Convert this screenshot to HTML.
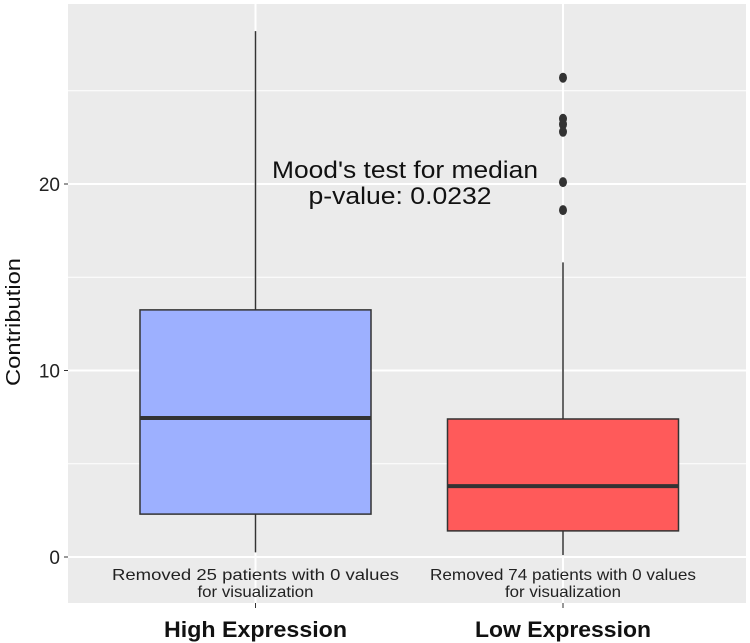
<!DOCTYPE html>
<html><head><meta charset="utf-8"><style>
body{margin:0;background:#fff;}
svg{display:block;font-family:"Liberation Sans",Arial,sans-serif;}
</style></head><body>
<svg id="chart" width="750" height="643"></svg>
<script>
const categories=["High Expression","Low Expression"];
const q1=[2.3,1.4];
const median=[7.45,3.8];
const q3=[13.25,7.4];
const whiskerLow=[0.25,0.1];
const whiskerHigh=[28.2,15.8];
const outliers=[[],[25.7,23.5,23.2,22.8,20.1,18.6]];
const fills=["#9db0ff","#ff5a5a"];
const notes=["Removed 25 patients with 0 values","Removed 74 patients with 0 values"];
const yTicks=[0,10,20];
const yMinor=[5,15,25];

const NS="http://www.w3.org/2000/svg";
const svg=document.getElementById('chart');
const L=68,R=746,T=4,B=603;
const y=v=>557-v*18.65;
const xc=[255.5,563];
const bw=231;
const catLen=[183,176];
function mk(t,a,p){const e=document.createElementNS(NS,t);for(const k in a)e.setAttribute(k,a[k]);(p||svg).appendChild(e);return e;}
const bg=mk('rect',{x:L,y:T,width:R-L,height:B-T,fill:'#ebebeb'});


yMinor.forEach(v=>{const l=mk('line',{x1:L,x2:R,y1:y(v),y2:y(v),stroke:'#fff','stroke-width':1});

});
yTicks.forEach(v=>{const l=mk('line',{x1:L,x2:R,y1:y(v),y2:y(v),stroke:'#fff','stroke-width':2});


const tk=mk('line',{x1:L-4,x2:L,y1:y(v),y2:y(v),stroke:'#333','stroke-width':1});


const t=mk('text',{x:L-8,y:y(v)+7,'text-anchor':'end','font-size':19,fill:'#222'});t.textContent=v;

});
categories.forEach((c,i)=>{const x=xc[i];
const vl=mk('line',{x1:x,x2:x,y1:T,y2:B,stroke:'#fff','stroke-width':2});


const n1=mk('text',{x:x,y:580,'text-anchor':'middle','font-size':16,fill:'#222',textLength:i?266:287,lengthAdjust:'spacingAndGlyphs'});n1.textContent=notes[i];


const n2=mk('text',{x:x,y:597,'text-anchor':'middle','font-size':16,fill:'#222',textLength:116,lengthAdjust:'spacingAndGlyphs'});n2.textContent='for visualization';


const w=mk('line',{x1:x,x2:x,y1:y(whiskerHigh[i]),y2:y(whiskerLow[i]),stroke:'#333','stroke-width':1.5});


const b=mk('rect',{x:x-bw/2,y:y(q3[i]),width:bw,height:y(q1[i])-y(q3[i]),fill:fills[i],stroke:'#333','stroke-width':1.5});


const m=mk('line',{x1:x-bw/2,x2:x+bw/2,y1:y(median[i]),y2:y(median[i]),stroke:'#333','stroke-width':4});


outliers[i].forEach(o=>{const p=mk('ellipse',{cx:x,cy:y(o),rx:4,ry:5,fill:'#333'});

});
const tk=mk('line',{x1:x,x2:x,y1:B,y2:B+5,stroke:'#333','stroke-width':1});


const t=mk('text',{x:x,y:637,'text-anchor':'middle','font-size':22,'font-weight':'bold',fill:'#111',textLength:catLen[i],lengthAdjust:'spacingAndGlyphs'});t.textContent=c;

});
const a1=mk('text',{x:405,y:178,'text-anchor':'middle','font-size':24,fill:'#111',textLength:266,lengthAdjust:'spacingAndGlyphs'});a1.textContent="Mood's test for median";


const a2=mk('text',{x:400,y:204,'text-anchor':'middle','font-size':24,fill:'#111',textLength:183,lengthAdjust:'spacingAndGlyphs'});a2.textContent="p-value: 0.0232";


const yl=mk('text',{x:20,y:322,'text-anchor':'middle','font-size':20,fill:'#111',transform:'rotate(-90 20 322)',textLength:128,lengthAdjust:'spacingAndGlyphs'});yl.textContent='Contribution';


</script>
</body></html>
